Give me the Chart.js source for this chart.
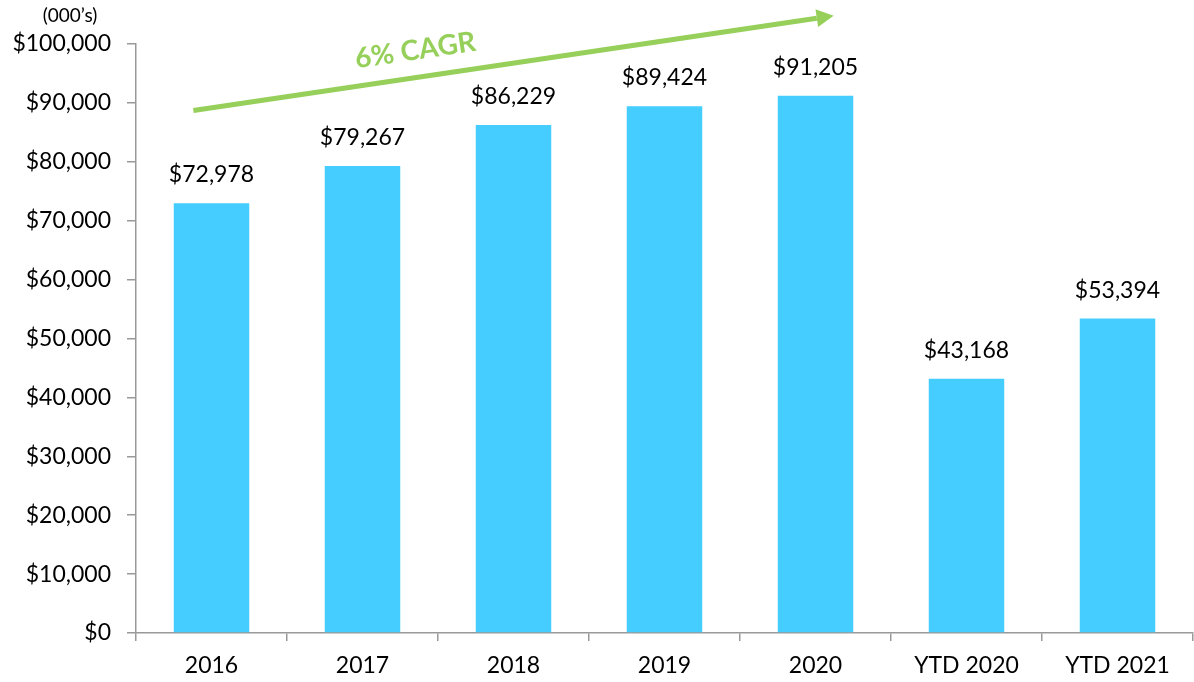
<!DOCTYPE html>
<html>
<head>
<meta charset="utf-8">
<script src="https://cdn.jsdelivr.net/npm/chart.js@4.4.0/dist/chart.umd.min.js"></script>
<style>
  html, body { margin: 0; padding: 0; background: #fff; }
  #wrap { position: relative; width: 1194px; height: 682px; }
</style>
</head>
<body>
<div id="wrap"><canvas id="chart"></canvas></div>
<script>
const categories = ['2016', '2017', '2018', '2019', '2020', 'YTD 2020', 'YTD 2021'];
const revenue = [72978, 79267, 86229, 89424, 91205, 43168, 53394];
const yTicks = [0, 10000, 20000, 30000, 40000, 50000, 60000, 70000, 80000, 90000, 100000];

// CAGR arrow, in data units (category index, value)
const cagrFrom = { x: -0.12, y: 88700 };
const cagrTo = { x: 4.12, y: 104800 };
const cagrText = { x: 1.35, y: 98900, label: '6% CAGR' };

const FONT = 'Lato, "Open Sans", sans-serif';
const fmt = v => '$' + v.toLocaleString('en-US');

const extras = {
    id: 'extras',
    afterDatasetsDraw(chart) {
        const ctx = chart.ctx;
        const xs = chart.scales.x, ys = chart.scales.y;
        ctx.save();

        // value labels
        ctx.font = '23px ' + FONT;
        ctx.fillStyle = '#000';
        ctx.textAlign = 'center';
        ctx.textBaseline = 'alphabetic';
        chart.getDatasetMeta(0).data.forEach((bar, i) => {
            ctx.fillText(fmt(revenue[i]), bar.x, bar.y - 21);
        });

        // unit note
        ctx.font = '19px ' + FONT;
        ctx.fillText('(000\u2019s)', 70, 22);

        // CAGR arrow
        const x1 = xs.getPixelForValue(cagrFrom.x), y1 = ys.getPixelForValue(cagrFrom.y);
        const x2 = xs.getPixelForValue(cagrTo.x), y2 = ys.getPixelForValue(cagrTo.y);
        const ang = Math.atan2(y2 - y1, x2 - x1);
        const head = 17, half = 9;
        const bx = x2 - head * Math.cos(ang), by = y2 - head * Math.sin(ang);
        ctx.strokeStyle = '#96D05A';
        ctx.fillStyle = '#96D05A';
        ctx.lineWidth = 5;
        ctx.beginPath();
        ctx.moveTo(x1, y1);
        ctx.lineTo(bx, by);
        ctx.stroke();
        ctx.beginPath();
        ctx.moveTo(x2, y2);
        ctx.lineTo(bx + half * Math.sin(ang), by - half * Math.cos(ang));
        ctx.lineTo(bx - half * Math.sin(ang), by + half * Math.cos(ang));
        ctx.closePath();
        ctx.fill();

        // CAGR text
        const tx = xs.getPixelForValue(cagrText.x), ty = ys.getPixelForValue(cagrText.y);
        ctx.translate(tx, ty);
        ctx.rotate(ang);
        ctx.font = 'bold 28px ' + FONT;
        ctx.textBaseline = 'middle';
        ctx.fillText(cagrText.label, 0, 0);
        ctx.restore();
    }
};

new Chart(document.getElementById('chart'), {
    type: 'bar',
    data: {
        labels: categories,
        datasets: [{
            data: revenue,
            backgroundColor: '#46CDFF',
            barPercentage: 0.5,
            categoryPercentage: 1
        }]
    },
    options: {
        responsive: true,
        maintainAspectRatio: false,
        animation: false,
        layout: { padding: { top: 44, right: 1, left: 0, bottom: 0 } },
        plugins: { legend: { display: false }, tooltip: { enabled: false } },
        scales: {
            x: {
                grid: { drawOnChartArea: false, color: '#999', tickLength: 8, lineWidth: 1.5 },
                border: { color: '#999', width: 1.5 },
                ticks: { color: '#000', font: { family: FONT, size: 23 }, padding: 11, maxRotation: 0 },
                afterFit: s => { s.height = 49; }
            },
            y: {
                min: 0,
                max: 100000,
                afterBuildTicks: s => { s.ticks = yTicks.map(v => ({ value: v })); },
                grid: { drawOnChartArea: false, color: '#999', tickLength: 9, lineWidth: 1.5 },
                border: { color: '#999', width: 1.5 },
                ticks: { color: '#000', font: { family: FONT, size: 23 }, padding: 16, callback: v => fmt(v) },
                afterFit: s => { s.width = 136; }
            }
        }
    },
    plugins: [extras]
});
</script>
</body>
</html>
